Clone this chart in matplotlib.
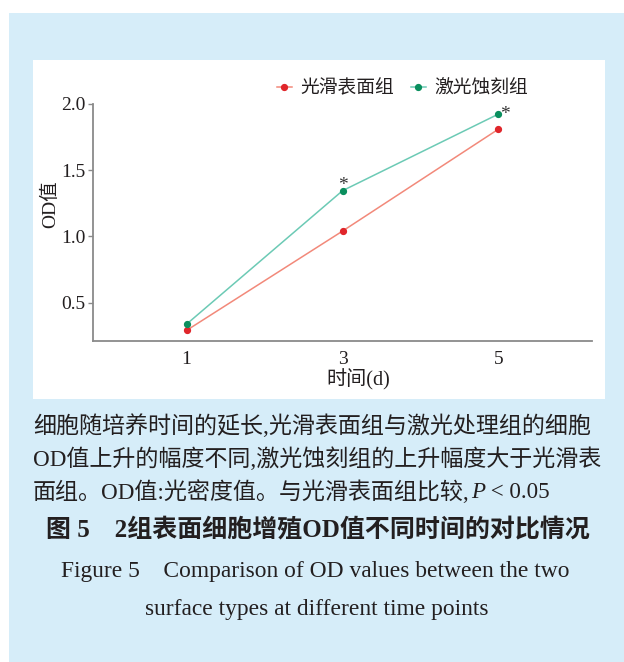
import matplotlib
matplotlib.use("Agg")
import matplotlib.pyplot as plt
from matplotlib.patches import Rectangle

plt.rcParams['font.family'] = ['Liberation Serif', 'Noto Sans CJK SC', 'DejaVu Sans']

# 数据
days = [1, 3, 5]
smooth_od = [0.29, 1.04, 1.81]
laser_od = [0.337, 1.345, 1.924]
group_names = ['光滑表面组', '激光蚀刻组']
sig_days = [3, 5]
y_ticks = [0.5, 1.0, 1.5, 2.0]

W, H = 624, 662
BG = '#d6edf9'
TXT = '#231f20'


def fx(px):
    return px / W


def fy(py):
    return 1 - py / H


fig = plt.figure(figsize=(W / 100, H / 100), dpi=100)
fig.patch.set_facecolor('white')
fig.patches.append(Rectangle((fx(9), 0), 1 - fx(9), fy(13), transform=fig.transFigure,
                             facecolor=BG, edgecolor='none', zorder=-2))
fig.patches.append(Rectangle((fx(33), fy(399)), fx(605 - 33), (399 - 60) / H,
                             transform=fig.transFigure, facecolor='white',
                             edgecolor='none', zorder=-1))

ax = fig.add_axes([fx(93), fy(341), fx(592 - 93), (341 - 104) / H])
ax.patch.set_alpha(0)

ax.plot(days, smooth_od, color='#f2897a', lw=1.1, marker='o', ms=4.2,
        mfc='#e0262b', mec='#e0262b', label=group_names[0])
ax.plot(days, laser_od, color='#6ccab5', lw=1.1, marker='o', ms=4.2,
        mfc='#0a8f5e', mec='#0a8f5e', label=group_names[1])

# 显著性标记
ax.annotate('*', (sig_days[0], laser_od[1]), xytext=(0, 4), textcoords='offset points',
            ha='center', va='center', fontsize=14, color='#333333')
ax.annotate('*', (sig_days[1], laser_od[2]), xytext=(5, 0), textcoords='offset points',
            ha='center', va='center', fontsize=14, color='#333333')

ax.set_xlim(-0.2, 6.2)
ax.set_ylim(0.21, 2.0)
ax.set_xticks(days)
ax.set_yticks(y_ticks)
ax.set_yticklabels([f'{v:.1f}' for v in y_ticks])
for s in ['top', 'right']:
    ax.spines[s].set_visible(False)
for s in ['left', 'bottom']:
    ax.spines[s].set_color('#8a8a8a')
    ax.spines[s].set_linewidth(1.3)
ax.tick_params(axis='y', length=3.5, width=1, color='#8a8a8a', labelsize=14,
               labelcolor=TXT, pad=2)
ax.tick_params(axis='x', length=0, labelsize=14, labelcolor=TXT, pad=7)

ax.legend(ncol=2, loc='center', bbox_to_anchor=(0.62, 1.064), frameon=False,
          handlelength=0.8, handletextpad=0.45, columnspacing=0.9,
          prop={'size': 13.5}, labelcolor=TXT)

fig.text(fx(50), fy(204), 'OD值', rotation=90, ha='center', va='center',
         fontsize=14, color=TXT)
fig.text(fx(358), fy(380), '时间(d)', ha='center', va='center', fontsize=14.5, color=TXT)

# 图注
cap = 16.6
fig.text(fx(33), fy(426), '细胞随培养时间的延长,光滑表面组与激光处理组的细胞',
         ha='left', va='center', fontsize=cap, color=TXT)
fig.text(fx(33), fy(459), 'OD值上升的幅度不同,激光蚀刻组的上升幅度大于光滑表',
         ha='left', va='center', fontsize=cap, color=TXT)
t1 = fig.text(fx(33), fy(492), '面组。OD值:光密度值。与光滑表面组比较,',
              ha='left', va='center', fontsize=cap, color=TXT)
t2 = ax.annotate('P', xy=(1, 0.5), xycoords=t1, xytext=(1, 0), textcoords='offset points',
                 ha='left', va='center', fontsize=cap, style='italic', color=TXT,
                 annotation_clip=False)
ax.annotate(' < 0.05', xy=(1, 0.5), xycoords=t2, ha='left', va='center',
            fontsize=cap, color=TXT, annotation_clip=False)

fig.text(fx(318), fy(530), '图 5　2组表面细胞增殖OD值不同时间的对比情况',
         ha='center', va='center', fontsize=18, fontweight='bold', color=TXT)
fig.text(fx(315), fy(572), 'Figure 5    Comparison of OD values between the two',
         ha='center', va='center', fontsize=16.9, color=TXT)
fig.text(fx(317), fy(609), 'surface types at different time points',
         ha='center', va='center', fontsize=16.9, color=TXT)

fig.savefig('out.png', dpi=100)
